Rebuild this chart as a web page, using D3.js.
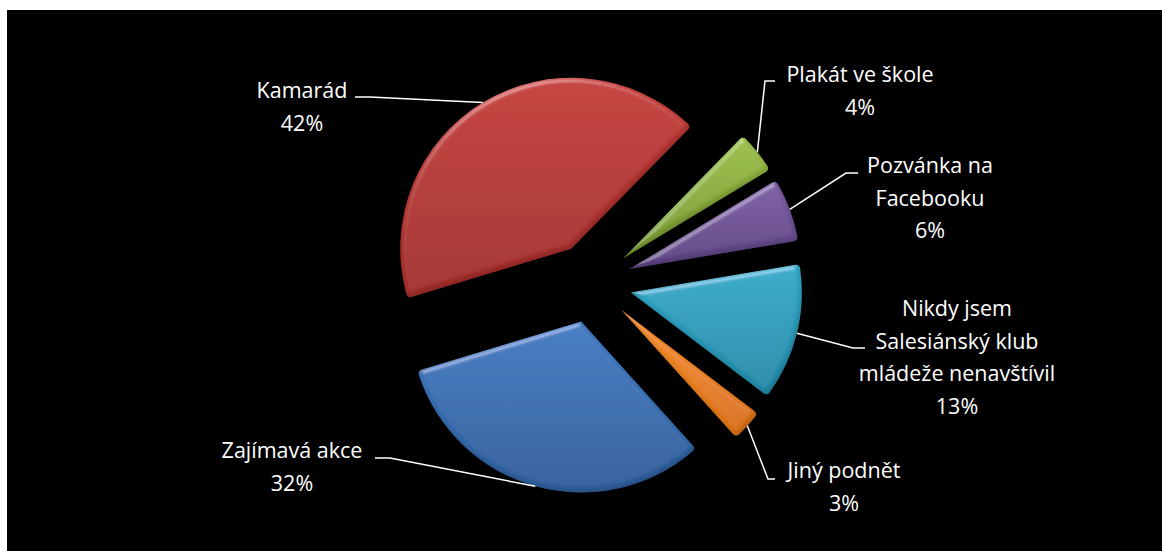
<!DOCTYPE html>
<html>
<head>
<meta charset="utf-8">
<script src="https://cdn.jsdelivr.net/npm/d3@7"></script>
<style>
  body { margin: 0; background: #fff; }
  svg { display: block; }
</style>
</head>
<body>
<div id="chart"></div>
<script>
// data, in the order the chart's series run (clockwise from the first slice)
var categories = ['Zajímavá akce', 'Kamarád', 'Plakát ve škole', 'Pozvánka na Facebooku',
    'Nikdy jsem Salesiánský klub mládeže nenavštívil', 'Jiný podnět'];
var values = [32, 42, 4, 6, 13, 3];
var labelLines = [
    ['Zajímavá akce'],
    ['Kamarád'],
    ['Plakát ve škole'],
    ['Pozvánka na', 'Facebooku'],
    ['Nikdy jsem', 'Salesiánský klub', 'mládeže nenavštívil'],
    ['Jiný podnět']
];

var colors = [
    ['#417bc2', '#305f9b'],
    ['#c43e3a', '#a2302d'],
    ['#9bbf48', '#7a9a33'],
    ['#7e5ea5', '#5e4382'],
    ['#35abcb', '#258aa7'],
    ['#f7902f', '#d8711a']
];

// label placement: text centre x, first baseline y, and the leader elbow (y, near x, far x)
var labelLayout = [
    { x: 292, y: 458, ey: 458, ex0: 390, ex1: 375 },
    { x: 302, y: 98,  ey: 97,  ex0: 370, ex1: 355 },
    { x: 860, y: 82,  ey: 81,  ex0: 765, ex1: 775 },
    { x: 930, y: 173, ey: 173, ex0: 846, ex1: 858 },
    { x: 957, y: 316, ey: 348, ex0: 853, ex1: 865 },
    { x: 844, y: 478, ey: 479, ex0: 768, ex1: 775 }
];

var width = 1162, height = 551;
var cx = 592, cy = 283, radius = 171, explode = 40;
var startDeg = 138;
var lineH = 32.5;

var svg = d3.select('#chart').append('svg')
    .attr('width', width)
    .attr('height', height);

svg.append('rect')
    .attr('x', 7).attr('y', 10)
    .attr('width', width - 7).attr('height', height - 10)
    .attr('fill', '#000');

var defs = svg.append('defs');

colors.forEach(function(c, i) {
    var g = defs.append('linearGradient')
        .attr('id', 'grad' + i)
        .attr('x1', 0).attr('y1', 0).attr('x2', 0).attr('y2', 1);
    g.append('stop').attr('offset', '0%').attr('stop-color', c[0]);
    g.append('stop').attr('offset', '100%').attr('stop-color', c[1]);
});

// soft bevel: light rim on top-left, dark rim on bottom-right
var f = defs.append('filter').attr('id', 'bevel')
    .attr('x', '-10%').attr('y', '-10%').attr('width', '120%').attr('height', '120%');
f.append('feGaussianBlur').attr('in', 'SourceAlpha').attr('stdDeviation', 2.5).attr('result', 'b');
var spec = f.append('feSpecularLighting').attr('in', 'b')
    .attr('surfaceScale', 3).attr('specularConstant', 0.8).attr('specularExponent', 24)
    .attr('lighting-color', '#fff').attr('result', 's');
spec.append('feDistantLight').attr('azimuth', 250).attr('elevation', 35);
f.append('feComposite').attr('in', 's').attr('in2', 'SourceAlpha').attr('operator', 'in').attr('result', 's2');
f.append('feComposite').attr('in', 'SourceGraphic').attr('in2', 's2')
    .attr('operator', 'arithmetic').attr('k1', 0).attr('k2', 1).attr('k3', 0.3).attr('k4', 0).attr('result', 'lit');
f.append('feOffset').attr('in', 'SourceAlpha').attr('dx', -2).attr('dy', -3).attr('result', 'o');
f.append('feGaussianBlur').attr('in', 'o').attr('stdDeviation', 2).attr('result', 'ob');
f.append('feComposite').attr('in', 'SourceAlpha').attr('in2', 'ob').attr('operator', 'out').attr('result', 'rim');
f.append('feFlood').attr('flood-color', '#000').attr('flood-opacity', 0.3).attr('result', 'fl');
f.append('feComposite').attr('in', 'fl').attr('in2', 'rim').attr('operator', 'in').attr('result', 'shadow');
var merge = f.append('feMerge');
merge.append('feMergeNode').attr('in', 'lit');
merge.append('feMergeNode').attr('in', 'shadow');

var start = startDeg * Math.PI / 180;
var pie = d3.pie().sort(null).value(function(d) { return d; })
    .startAngle(start).endAngle(start + 2 * Math.PI);
var arc = d3.arc().innerRadius(0).outerRadius(radius).cornerRadius(4);

var arcs = pie(values);
var total = d3.sum(values);
var pct = d3.format('.0%');

function mid(d) { return (d.startAngle + d.endAngle) / 2; }

var g = svg.append('g').attr('transform', 'translate(' + cx + ',' + cy + ')');

g.selectAll('path.slice')
    .data(arcs)
    .enter()
    .append('path')
    .attr('class', 'slice')
    .attr('d', arc)
    .attr('fill', function(d, i) { return 'url(#grad' + i + ')'; })
    .attr('filter', 'url(#bevel)')
    .attr('transform', function(d) {
        var a = mid(d);
        return 'translate(' + (Math.sin(a) * explode) + ',' + (-Math.cos(a) * explode) + ')';
    });

// leader lines from the middle of each outer arc to the label elbow
svg.selectAll('path.leader')
    .data(arcs)
    .enter()
    .append('path')
    .attr('class', 'leader')
    .attr('fill', 'none')
    .attr('stroke', '#fff')
    .attr('stroke-width', 1.5)
    .attr('d', function(d, i) {
        var a = mid(d);
        var r = explode + radius;
        var px = cx + Math.sin(a) * r, py = cy - Math.cos(a) * r;
        var L = labelLayout[i];
        return 'M' + px + ',' + py + 'L' + L.ex0 + ',' + L.ey + 'L' + L.ex1 + ',' + L.ey;
    });

var labels = svg.selectAll('text.label')
    .data(arcs)
    .enter()
    .append('text')
    .attr('class', 'label')
    .attr('text-anchor', 'middle')
    .attr('fill', '#fff')
    .style('font-family', '"Open Sans", sans-serif')
    .style('font-size', '21.5px');

labels.each(function(d, i) {
    var L = labelLayout[i];
    var lines = labelLines[i].concat([pct(values[i] / total)]);
    var t = d3.select(this);
    lines.forEach(function(s, k) {
        t.append('tspan').attr('x', L.x).attr('y', L.y + k * lineH).text(s);
    });
});
</script>
</body>
</html>
